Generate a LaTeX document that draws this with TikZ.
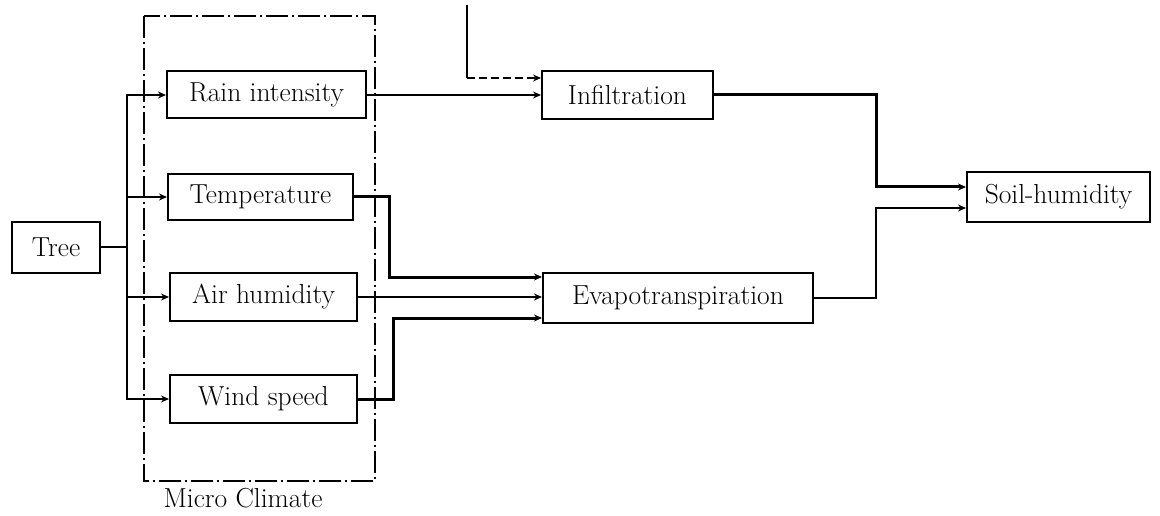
\documentclass[tikz,border=0pt]{standalone}
\usetikzlibrary{arrows.meta,calc}
\begin{document}
\begin{tikzpicture}[x=1pt,y=-1pt,
  box/.style={draw,line width=2pt,inner sep=0pt,font=\fontsize{27.5}{30}\selectfont},
  conn/.style={line width=1.5pt},
  thick conn/.style={line width=3pt},
  arr/.style={-{Stealth[length=8pt,width=7pt]}},
  dashconn/.style={line width=2.2pt,dash pattern=on 8pt off 4pt},
  frame/.style={line width=1.6pt,dash pattern=on 22pt off 4pt on 2pt off 4pt}]
\useasboundingbox (0,0) rectangle (1160,516);
% Nodes
\node[box,minimum width=88pt,minimum height=51pt] (tree) at (56,247) {Tree};
\node[box,minimum width=199pt,minimum height=47pt] (rain) at (266.5,95) {Rain intensity};
\node[box,minimum width=185pt,minimum height=46pt] (temp) at (260.5,197) {Temperature};
\node[box,minimum width=187pt,minimum height=48pt] (air) at (263.5,297) {Air humidity};
\node[box,minimum width=187pt,minimum height=48pt] (wind) at (263.5,399) {Wind speed};
\node[box,minimum width=171pt,minimum height=48pt] (infil) at (627.5,95) {Infiltration};
\node[box,minimum width=270pt,minimum height=50pt] (evap) at (678,298) {Evapotranspiration};
\node[box,minimum width=183pt,minimum height=50pt] (soil) at (1058.5,197) {Soil-humidity};
% Micro climate frame
\draw[frame] (144,16) rectangle (375,481);
\node[font=\fontsize{27.5}{30}\selectfont,inner sep=0pt] (mclabel) at (243,498) {Micro Climate};
% Tree to trunk
\coordinate (trunk) at (127,247);
\draw[conn] (tree.east) -- (trunk);
\draw[conn,arr] (trunk) |- (rain.west);
\draw[conn,arr] (trunk) |- (temp.west);
\draw[conn,arr] (trunk) |- (air.west);
\draw[conn,arr] (trunk) |- (wind.west);
% Rain to infiltration
\draw[conn,arr] (rain.east) -- (infil.west);
% Dashed input to infiltration
\coordinate (topin) at (467,5);
\coordinate (corner) at (467,78);
\draw[conn] (topin) -- (corner);
\draw[dashconn,arr] (corner) -- (corner -| infil.west);
% Micro climate to evapotranspiration
\draw[thick conn,arr] (temp.east) -- ++(35,0) |- ($(evap.west)+(0,-21)$);
\draw[conn,arr] (air.east) -- (air.east -| evap.west);
\draw[thick conn,arr] (wind.east) -- ++(35,0) |- ($(evap.west)+(0,20)$);
% To soil humidity
\draw[thick conn,arr] (infil.east) -- ++(162,0) |- ($(soil.west)+(0,-10)$);
\draw[conn,arr] (evap.east) -- ++(62,0) |- ($(soil.west)+(0,11)$);
\end{tikzpicture}
\end{document}
